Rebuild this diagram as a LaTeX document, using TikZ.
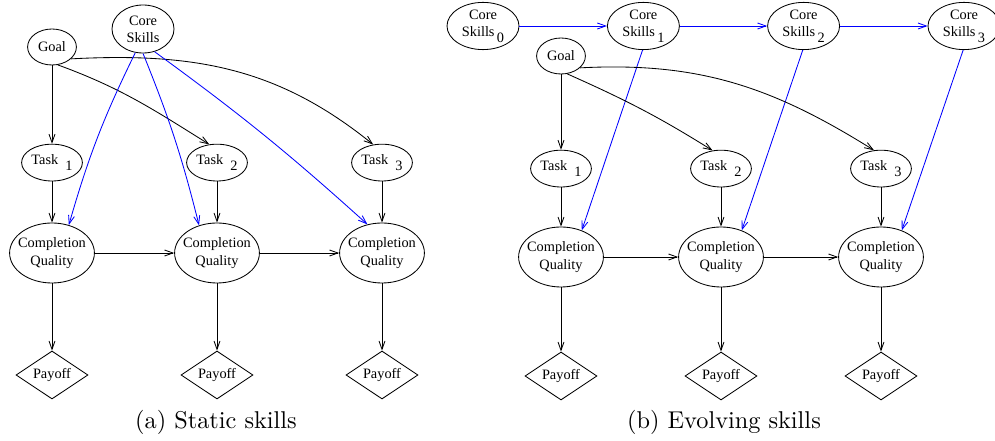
\documentclass[tikz,border=0pt]{standalone}
\usepackage{fontspec}
\newfontfamily\graphfont{Liberation Serif}
\newfontfamily\capfont{lmroman10-regular}[Extension=.otf]
\usetikzlibrary{arrows.meta}
\usetikzlibrary{shapes.geometric}

% lowered index after a label
\newcommand{\idx}[1]{\raisebox{-4pt}{#1}}

\begin{document}
\begin{tikzpicture}[x=1cm,y=1cm,
    var/.style={ellipse, draw, line width=0.6pt, inner sep=-1cm, align=center,
      font=\graphfont\fontsize{10.2}{12.2}\selectfont},
    goalvar/.style={var, minimum width=1.22cm, minimum height=0.9cm},
    taskvar/.style={var, minimum width=1.52cm, minimum height=0.92cm},
    skillvar/.style={var, minimum width=1.55cm, minimum height=1.2cm},
    skillsub/.style={var, minimum width=1.8cm, minimum height=1.18cm},
    qualvar/.style={var, minimum width=2.12cm, minimum height=1.5cm},
    payvar/.style={var, diamond, minimum width=1.8cm, minimum height=1.2cm},
    dep/.style={line width=0.6pt, -{Straight Barb[length=2.1mm,width=1.5mm]}},
    skilldep/.style={dep, blue},
    caption/.style={font=\capfont\fontsize{17.28}{20}\selectfont}]
  \useasboundingbox (0,0) rectangle (24.875,11.025);

  % (a) one skill node for all steps
  \node[skillvar] (skillA) at (3.575,10.3) {Core\\Skills};
  \node[goalvar] (goalA) at (1.3,9.85) {Goal};
  \foreach \i/\x in {1/1.3,2/5.425,3/9.55} {
    \node[taskvar] (taskA\i) at (\x,6.96) {Task\enspace\idx{\i}};
    \node[qualvar] (qualA\i) at (\x,4.7) {Completion\\Quality};
    \node[payvar] (payA\i) at (\x,1.65) {Payoff};
    \draw[dep] (taskA\i) -- (qualA\i);
    \draw[dep] (qualA\i) -- (payA\i);
  }
  \draw[dep] (goalA) -- (taskA1);
  \draw[dep] (goalA.288) to[out=-20,in=148] (taskA2.113);
  \draw[dep] (goalA.328) to[out=3,in=141] (taskA3.116);
  \draw[skilldep] (skillA.252) to[bend right=5] (qualA1.59);
  \draw[skilldep] (skillA.270) to[bend left=4] (qualA2.123);
  \draw[skilldep] (skillA.297) to[bend left=3] (qualA3.117);
  \draw[dep] (qualA1) -- (qualA2);
  \draw[dep] (qualA2) -- (qualA3);
  \node[caption] (capA) at (5.4,0.46) {(a) Static skills};

  % (b) skills carried from step to step
  \foreach \i/\x in {0/12.075,1/16.085,2/20.09,3/24.1}
    \node[skillsub] (skillB\i) at (\x,10.375) {Core\\Skills\,\idx{\i}};
  \node[goalvar] (goalB) at (14.025,9.625) {Goal};
  \foreach \i/\x in {1/14.025,2/18.025,3/22.025} {
    \node[taskvar] (taskB\i) at (\x,6.81) {Task\enspace\idx{\i}};
    \node[qualvar] (qualB\i) at (\x,4.6) {Completion\\Quality};
    \node[payvar] (payB\i) at (\x,1.625) {Payoff};
    \draw[dep] (taskB\i) -- (qualB\i);
    \draw[dep] (qualB\i) -- (payB\i);
    \draw[skilldep] (skillB\i.268) -- (qualB\i.52);
  }
  \draw[skilldep] (skillB0) -- (skillB1);
  \draw[skilldep] (skillB1) -- (skillB2);
  \draw[skilldep] (skillB2) -- (skillB3);
  \draw[dep] (goalB) -- (taskB1);
  \draw[dep] (goalB.289) to[out=-24,in=148] (taskB2.115);
  \draw[dep] (goalB.328) to[out=3,in=148] (taskB3.111);
  \draw[dep] (qualB1) -- (qualB2);
  \draw[dep] (qualB2) -- (qualB3);
  \node[caption] (capB) at (18.1,0.46) {(b) Evolving skills};
\end{tikzpicture}
\end{document}
